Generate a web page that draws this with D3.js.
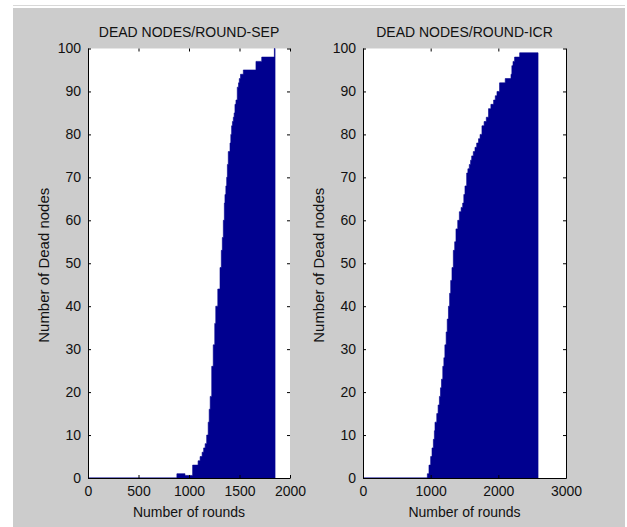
<!DOCTYPE html>
<html lang="en">
<head>
<meta charset="UTF-8">
<script src="https://cdn.jsdelivr.net/npm/d3@7"></script>
<style>
  body { margin: 0; background: #fff; }
  text { font-family: "Liberation Sans", Arial, sans-serif; fill: #111; }
</style>
</head>
<body>
<div id="fig"></div>
<script>
// dead nodes per round (step values, held until next round)
const sepRounds = [0, 880, 960, 1036, 1090, 1110, 1130, 1145, 1160, 1175, 1190, 1200, 1210, 1225, 1240, 1255, 1265, 1285, 1307, 1320, 1330, 1340, 1350, 1356, 1365, 1373, 1380, 1389, 1406, 1414, 1422, 1430, 1439, 1447, 1455, 1465, 1478, 1490, 1498, 1510, 1538, 1663, 1720, 1845, 1852];
const sepDead   = [0, 1, 0.6, 3, 4, 5, 6, 7, 8, 10, 13, 16, 19, 26, 31, 36, 40, 44, 49, 53, 56, 60, 64, 66, 68, 70, 73, 76, 78, 80, 82, 83, 84, 85, 87, 88, 91, 92, 93, 94, 95, 97, 98, 100, 100];

const icrRounds = [0, 951, 975, 1000, 1020, 1040, 1055, 1064, 1090, 1110, 1129, 1145, 1160, 1179, 1195, 1210, 1229, 1245, 1263, 1280, 1296, 1315, 1335, 1355, 1374, 1400, 1424, 1450, 1473, 1490, 1507, 1532, 1550, 1571, 1590, 1606, 1630, 1655, 1680, 1707, 1730, 1758, 1790, 1822, 1855, 1890, 1930, 1955, 1980, 2018, 2102, 2187, 2200, 2217, 2240, 2315, 2587];
const icrDead   = [0, 1, 3, 5, 7, 9, 11, 13, 15, 17, 19, 21, 23, 26, 28, 31, 34, 37, 40, 43, 46, 49, 53, 55, 58, 60, 62, 63, 64, 66, 68, 71, 72, 73, 74, 75, 76, 77, 78, 79, 80, 82, 83, 84, 86, 87, 88, 89, 90, 92, 93, 94, 96, 97, 98, 99, 99];

const yTicks = [0, 10, 20, 30, 40, 50, 60, 70, 80, 90, 100];
const sepXTicks = [0, 500, 1000, 1500, 2000];
const icrXTicks = [0, 1000, 2000, 3000];

const width = 627, height = 527;
const svg = d3.select("#fig").append("svg")
    .attr("width", width)
    .attr("height", height);

// figure background
svg.append("line").attr("x1", 13).attr("x2", 625).attr("y1", 5.5).attr("y2", 5.5)
    .attr("stroke", "#d8d8d8");
svg.append("rect").attr("x", 13).attr("y", 8).attr("width", 612).attr("height", 519)
    .attr("fill", "#cccccc");

function drawPanel(opt) {
    const x = d3.scaleLinear().domain(opt.xDomain).range([opt.left, opt.right]);
    const y = d3.scaleLinear().domain([0, 100]).range([478, 48.5]);
    const g = svg.append("g");

    g.append("rect")
        .attr("x", opt.left).attr("y", y(100))
        .attr("width", opt.right - opt.left).attr("height", y(0) - y(100))
        .attr("fill", "#fff");

    const pts = opt.rounds.map((r, i) => [r, opt.dead[i]]);
    const area = d3.area()
        .curve(d3.curveStepAfter)
        .x(d => x(d[0]))
        .y0(y(0))
        .y1(d => y(d[1]));
    g.append("path")
        .attr("d", area(pts))
        .attr("fill", "#00008f")
        .attr("stroke", "#00008f")
        .attr("stroke-width", 0.6);

    // axes (MATLAB style: ticks inside, box)
    const fmt = d3.format("d");
    const left = g.append("g").attr("transform", `translate(${opt.left},0)`)
        .call(d3.axisLeft(y).tickValues(yTicks).tickFormat(fmt).tickSizeInner(-3).tickSizeOuter(0).tickPadding(7));
    const right = g.append("g").attr("transform", `translate(${opt.right},0)`)
        .call(d3.axisRight(y).tickValues(yTicks).tickSizeInner(-3).tickSizeOuter(0).tickFormat(""));
    const bottom = g.append("g").attr("transform", `translate(0,${y(0)})`)
        .call(d3.axisBottom(x).tickValues(opt.xTicks).tickFormat(fmt).tickSizeInner(-3).tickSizeOuter(0).tickPadding(8));
    const top = g.append("g").attr("transform", `translate(0,${y(100)})`)
        .call(d3.axisTop(x).tickValues(opt.xTicks).tickSizeInner(-3).tickSizeOuter(0).tickFormat(""));

    [left, right, bottom, top].forEach(a => {
        a.selectAll("text").style("font-size", "14px").style("font-family", "Liberation Sans, Arial, sans-serif").attr("fill", "#111");
        a.selectAll("line").attr("stroke", "#000");
        a.select(".domain").attr("stroke", "#000");
    });
    top.select(".domain").attr("stroke", "none");
    if (!opt.rightLine) right.select(".domain").attr("stroke", "none");
    bottom.selectAll("text").attr("dy", "0.71em");

    g.append("text")
        .attr("x", (opt.left + opt.right) / 2).attr("y", 37)
        .attr("text-anchor", "middle").style("font-size", "14px")
        .text(opt.title);
    g.append("text")
        .attr("x", (opt.left + opt.right) / 2).attr("y", 517)
        .attr("text-anchor", "middle").style("font-size", "14px")
        .text("Number of rounds");
    g.append("text")
        .attr("transform", `translate(${opt.left - 39},${(y(0) + y(100)) / 2 + 2}) rotate(-90)`)
        .attr("text-anchor", "middle").style("font-size", "15px")
        .text("Number of Dead nodes");
}

drawPanel({ left: 88, right: 290, xDomain: [0, 2000], xTicks: sepXTicks,
    rounds: sepRounds, dead: sepDead, title: "DEAD NODES/ROUND-SEP", rightLine: false });
drawPanel({ left: 363, right: 566, xDomain: [0, 3000], xTicks: icrXTicks,
    rounds: icrRounds, dead: icrDead, title: "DEAD NODES/ROUND-ICR", rightLine: true });
</script>
</body>
</html>
